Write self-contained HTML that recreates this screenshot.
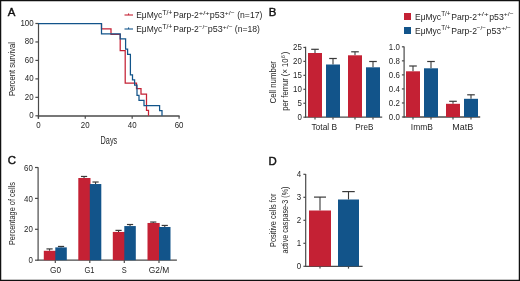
<!DOCTYPE html>
<html><head><meta charset="utf-8"><style>
html,body{margin:0;padding:0;background:#fff;}
svg{display:block;will-change:transform;}
text{font-family:"Liberation Sans",sans-serif;}
</style></head><body>
<svg width="520" height="281" viewBox="0 0 520 281">
<rect x="0" y="0" width="520" height="281" fill="#fff"/>
<rect x="0.6" y="0.6" width="518.8" height="279.8" fill="none" stroke="#111" stroke-width="1.3"/>
<text x="7.8" y="16.3" font-size="11.4" text-anchor="start" fill="#111" stroke="#111" stroke-width="0.42">A</text>
<text x="268.7" y="16.3" font-size="11.4" text-anchor="start" fill="#111" stroke="#111" stroke-width="0.42">B</text>
<text x="7.7" y="164.3" font-size="11.4" text-anchor="start" fill="#111" stroke="#111" stroke-width="0.42">C</text>
<text x="268.5" y="164.5" font-size="11.4" text-anchor="start" fill="#111" stroke="#111" stroke-width="0.42">D</text>
<line x1="38.5" y1="23" x2="38.5" y2="118.6" stroke="#4a4a4a" stroke-width="1.2"/>
<line x1="37.9" y1="116.0" x2="179.6" y2="116.0" stroke="#4a4a4a" stroke-width="1.45"/>
<line x1="35.4" y1="23.5" x2="38.5" y2="23.5" stroke="#4a4a4a" stroke-width="1.2"/>
<text transform="translate(33.6,25.7) scale(0.92,1)" font-size="8.6" text-anchor="end" fill="#262626">100</text>
<line x1="35.4" y1="41.96" x2="38.5" y2="41.96" stroke="#4a4a4a" stroke-width="1.2"/>
<text transform="translate(33.6,44.16) scale(0.92,1)" font-size="8.6" text-anchor="end" fill="#262626">80</text>
<line x1="35.4" y1="60.42" x2="38.5" y2="60.42" stroke="#4a4a4a" stroke-width="1.2"/>
<text transform="translate(33.6,62.62) scale(0.92,1)" font-size="8.6" text-anchor="end" fill="#262626">60</text>
<line x1="35.4" y1="78.88" x2="38.5" y2="78.88" stroke="#4a4a4a" stroke-width="1.2"/>
<text transform="translate(33.6,81.08) scale(0.92,1)" font-size="8.6" text-anchor="end" fill="#262626">40</text>
<line x1="35.4" y1="97.34" x2="38.5" y2="97.34" stroke="#4a4a4a" stroke-width="1.2"/>
<text transform="translate(33.6,99.54) scale(0.92,1)" font-size="8.6" text-anchor="end" fill="#262626">20</text>
<line x1="35.4" y1="115.8" x2="38.5" y2="115.8" stroke="#4a4a4a" stroke-width="1.2"/>
<text transform="translate(33.6,118.0) scale(0.92,1)" font-size="8.6" text-anchor="end" fill="#262626">0</text>
<line x1="38.35" y1="116" x2="38.35" y2="118.8" stroke="#4a4a4a" stroke-width="1.2"/>
<text transform="translate(38.35,128.3) scale(0.92,1)" font-size="8.6" text-anchor="middle" fill="#262626">0</text>
<line x1="85.26" y1="116" x2="85.26" y2="118.8" stroke="#4a4a4a" stroke-width="1.2"/>
<text transform="translate(85.26,128.3) scale(0.92,1)" font-size="8.6" text-anchor="middle" fill="#262626">20</text>
<line x1="132.17" y1="116" x2="132.17" y2="118.8" stroke="#4a4a4a" stroke-width="1.2"/>
<text transform="translate(132.17,128.3) scale(0.92,1)" font-size="8.6" text-anchor="middle" fill="#262626">40</text>
<line x1="179.08" y1="116" x2="179.08" y2="118.8" stroke="#4a4a4a" stroke-width="1.2"/>
<text transform="translate(179.08,128.3) scale(0.92,1)" font-size="8.6" text-anchor="middle" fill="#262626">60</text>
<text x="108.9" y="143.5" font-size="10.2" text-anchor="middle" fill="#262626" textLength="16.6" lengthAdjust="spacingAndGlyphs">Days</text>
<text transform="translate(14.6,69) rotate(-90)" font-size="9.6" text-anchor="middle" fill="#262626" textLength="54" lengthAdjust="spacingAndGlyphs">Percent survival</text>
<path d="M101.5,23.5 101.5,23.5 101.5,28.93 111,28.93 111,34.36 120.2,34.36 120.2,50.65 125.2,50.65 125.2,83.22 136.5,83.22 136.5,88.65 141,88.65 141,94.08 146.5,94.08 146.5,110.37 148.5,110.37 148.5,115.8" fill="none" stroke="#C42134" stroke-width="1.25"/>
<path d="M38.3,23.5 101.5,23.5 101.5,33.76 120.2,33.76 120.2,38.88 125.6,38.88 125.6,49.14 127.6,49.14 127.6,54.27 130.4,54.27 130.4,74.78 132.5,74.78 132.5,79.91 134.6,79.91 134.6,85.03 137,85.03 137,95.29 139,95.29 139,100.42 144,100.42 144,105.54 159.6,105.54 159.6,110.67 162,110.67 162,115.8" fill="none" stroke="#12548A" stroke-width="1.25"/>
<line x1="124.5" y1="15" x2="133" y2="15" stroke="#C42134" stroke-width="1.1"/>
<line x1="128.6" y1="13.4" x2="128.6" y2="15" stroke="#C42134" stroke-width="1"/>
<line x1="124.5" y1="29" x2="133" y2="29" stroke="#12548A" stroke-width="1.1"/>
<line x1="128.6" y1="27.4" x2="128.6" y2="29" stroke="#12548A" stroke-width="1"/>
<text x="136.2" y="17.8" font-size="9.6" text-anchor="start" fill="#262626" textLength="26" lengthAdjust="spacingAndGlyphs">EμMyc</text>
<text x="162.2" y="14.7" font-size="6.8" text-anchor="start" fill="#262626" textLength="10.2" lengthAdjust="spacingAndGlyphs">T/+</text>
<text x="173.2" y="17.8" font-size="9.6" text-anchor="start" fill="#262626" textLength="25.6" lengthAdjust="spacingAndGlyphs">Parp-2</text>
<text x="198.8" y="14.5" font-size="6.2" text-anchor="start" fill="#262626" textLength="11" lengthAdjust="spacingAndGlyphs">+/+</text>
<text x="209.8" y="17.8" font-size="9.6" text-anchor="start" fill="#262626" textLength="15" lengthAdjust="spacingAndGlyphs">p53</text>
<text x="224.8" y="14.5" font-size="6.2" text-anchor="start" fill="#262626" textLength="9.8" lengthAdjust="spacingAndGlyphs">+/−</text>
<text x="237.2" y="17.8" font-size="9.6" text-anchor="start" fill="#262626" textLength="25.2" lengthAdjust="spacingAndGlyphs">(n=17)</text>
<text x="136.2" y="31.8" font-size="9.6" text-anchor="start" fill="#262626" textLength="26" lengthAdjust="spacingAndGlyphs">EμMyc</text>
<text x="162.2" y="28.7" font-size="6.8" text-anchor="start" fill="#262626" textLength="10.2" lengthAdjust="spacingAndGlyphs">T/+</text>
<text x="173.2" y="31.8" font-size="9.6" text-anchor="start" fill="#262626" textLength="25.6" lengthAdjust="spacingAndGlyphs">Parp-2</text>
<text x="198.8" y="28.5" font-size="6.2" text-anchor="start" fill="#262626" textLength="9" lengthAdjust="spacingAndGlyphs">−/−</text>
<text x="207.8" y="31.8" font-size="9.6" text-anchor="start" fill="#262626" textLength="15" lengthAdjust="spacingAndGlyphs">p53</text>
<text x="222.8" y="28.5" font-size="6.2" text-anchor="start" fill="#262626" textLength="9.8" lengthAdjust="spacingAndGlyphs">+/−</text>
<text x="234.8" y="31.8" font-size="9.6" text-anchor="start" fill="#262626" textLength="25.2" lengthAdjust="spacingAndGlyphs">(n=18)</text>
<line x1="305.6" y1="46.8" x2="305.6" y2="117.6" stroke="#4a4a4a" stroke-width="1.2"/>
<line x1="305" y1="117.2" x2="382.2" y2="117.2" stroke="#4a4a4a" stroke-width="1.3"/>
<line x1="303.4" y1="47.45" x2="305.6" y2="47.45" stroke="#4a4a4a" stroke-width="1.2"/>
<text transform="translate(301.8,49.75) scale(0.92,1)" font-size="8.6" text-anchor="end" fill="#262626">25</text>
<line x1="303.4" y1="61.4" x2="305.6" y2="61.4" stroke="#4a4a4a" stroke-width="1.2"/>
<text transform="translate(301.8,63.7) scale(0.92,1)" font-size="8.6" text-anchor="end" fill="#262626">20</text>
<line x1="303.4" y1="75.35" x2="305.6" y2="75.35" stroke="#4a4a4a" stroke-width="1.2"/>
<text transform="translate(301.8,77.65) scale(0.92,1)" font-size="8.6" text-anchor="end" fill="#262626">15</text>
<line x1="303.4" y1="89.3" x2="305.6" y2="89.3" stroke="#4a4a4a" stroke-width="1.2"/>
<text transform="translate(301.8,91.6) scale(0.92,1)" font-size="8.6" text-anchor="end" fill="#262626">10</text>
<line x1="303.4" y1="103.25" x2="305.6" y2="103.25" stroke="#4a4a4a" stroke-width="1.2"/>
<text transform="translate(301.8,105.55) scale(0.92,1)" font-size="8.6" text-anchor="end" fill="#262626">5</text>
<line x1="303.4" y1="117.2" x2="305.6" y2="117.2" stroke="#4a4a4a" stroke-width="1.2"/>
<text transform="translate(301.8,119.5) scale(0.92,1)" font-size="8.6" text-anchor="end" fill="#262626">0</text>
<line x1="315" y1="53" x2="315" y2="49.3" stroke="#3a3a3a" stroke-width="1.1"/>
<line x1="311.2" y1="49.3" x2="318.8" y2="49.3" stroke="#3a3a3a" stroke-width="1.2"/>
<rect x="308" y="53" width="14" height="64.2" fill="#C42134"/>
<line x1="333" y1="64.5" x2="333" y2="58.5" stroke="#3a3a3a" stroke-width="1.1"/>
<line x1="329.2" y1="58.5" x2="336.8" y2="58.5" stroke="#3a3a3a" stroke-width="1.2"/>
<rect x="326" y="64.5" width="14" height="52.7" fill="#12548A"/>
<line x1="355" y1="55.3" x2="355" y2="51.8" stroke="#3a3a3a" stroke-width="1.1"/>
<line x1="351.2" y1="51.8" x2="358.8" y2="51.8" stroke="#3a3a3a" stroke-width="1.2"/>
<rect x="348" y="55.3" width="14" height="61.9" fill="#C42134"/>
<line x1="373" y1="67.3" x2="373" y2="61.5" stroke="#3a3a3a" stroke-width="1.1"/>
<line x1="369.2" y1="61.5" x2="376.8" y2="61.5" stroke="#3a3a3a" stroke-width="1.2"/>
<rect x="366" y="67.3" width="14" height="49.9" fill="#12548A"/>
<line x1="315" y1="117.2" x2="315" y2="119.6" stroke="#4a4a4a" stroke-width="1.2"/>
<line x1="333" y1="117.2" x2="333" y2="119.6" stroke="#4a4a4a" stroke-width="1.2"/>
<line x1="355" y1="117.2" x2="355" y2="119.6" stroke="#4a4a4a" stroke-width="1.2"/>
<line x1="373" y1="117.2" x2="373" y2="119.6" stroke="#4a4a4a" stroke-width="1.2"/>
<text x="324.3" y="129.6" font-size="8.6" text-anchor="middle" fill="#262626" textLength="25.8" lengthAdjust="spacingAndGlyphs">Total B</text>
<text x="364.3" y="129.6" font-size="8.6" text-anchor="middle" fill="#262626" textLength="18" lengthAdjust="spacingAndGlyphs">PreB</text>
<line x1="404.1" y1="46.5" x2="404.1" y2="117.4" stroke="#4a4a4a" stroke-width="1.2"/>
<line x1="403.5" y1="117.0" x2="480.2" y2="117.0" stroke="#4a4a4a" stroke-width="1.3"/>
<line x1="401.9" y1="46.8" x2="404.1" y2="46.8" stroke="#4a4a4a" stroke-width="1.2"/>
<text transform="translate(399.8,49.9) scale(0.92,1)" font-size="8.6" text-anchor="end" fill="#262626">1.0</text>
<line x1="401.9" y1="60.84" x2="404.1" y2="60.84" stroke="#4a4a4a" stroke-width="1.2"/>
<text transform="translate(399.8,63.94) scale(0.92,1)" font-size="8.6" text-anchor="end" fill="#262626">0.8</text>
<line x1="401.9" y1="74.88" x2="404.1" y2="74.88" stroke="#4a4a4a" stroke-width="1.2"/>
<text transform="translate(399.8,77.98) scale(0.92,1)" font-size="8.6" text-anchor="end" fill="#262626">0.6</text>
<line x1="401.9" y1="88.92" x2="404.1" y2="88.92" stroke="#4a4a4a" stroke-width="1.2"/>
<text transform="translate(399.8,92.02) scale(0.92,1)" font-size="8.6" text-anchor="end" fill="#262626">0.4</text>
<line x1="401.9" y1="102.96" x2="404.1" y2="102.96" stroke="#4a4a4a" stroke-width="1.2"/>
<text transform="translate(399.8,106.06) scale(0.92,1)" font-size="8.6" text-anchor="end" fill="#262626">0.2</text>
<line x1="401.9" y1="117.0" x2="404.1" y2="117.0" stroke="#4a4a4a" stroke-width="1.2"/>
<text transform="translate(399.8,120.1) scale(0.92,1)" font-size="8.6" text-anchor="end" fill="#262626">0.0</text>
<line x1="413" y1="71.3" x2="413" y2="66" stroke="#3a3a3a" stroke-width="1.1"/>
<line x1="409.2" y1="66" x2="416.8" y2="66" stroke="#3a3a3a" stroke-width="1.2"/>
<rect x="406" y="71.3" width="14" height="45.7" fill="#C42134"/>
<line x1="431" y1="68.3" x2="431" y2="61.5" stroke="#3a3a3a" stroke-width="1.1"/>
<line x1="427.2" y1="61.5" x2="434.8" y2="61.5" stroke="#3a3a3a" stroke-width="1.2"/>
<rect x="424" y="68.3" width="14" height="48.7" fill="#12548A"/>
<line x1="453" y1="103.8" x2="453" y2="101.3" stroke="#3a3a3a" stroke-width="1.1"/>
<line x1="449.2" y1="101.3" x2="456.8" y2="101.3" stroke="#3a3a3a" stroke-width="1.2"/>
<rect x="446" y="103.8" width="14" height="13.2" fill="#C42134"/>
<line x1="471" y1="98.8" x2="471" y2="94.8" stroke="#3a3a3a" stroke-width="1.1"/>
<line x1="467.2" y1="94.8" x2="474.8" y2="94.8" stroke="#3a3a3a" stroke-width="1.2"/>
<rect x="464" y="98.8" width="14" height="18.2" fill="#12548A"/>
<line x1="413" y1="117" x2="413" y2="119.4" stroke="#4a4a4a" stroke-width="1.2"/>
<line x1="431" y1="117" x2="431" y2="119.4" stroke="#4a4a4a" stroke-width="1.2"/>
<line x1="453" y1="117" x2="453" y2="119.4" stroke="#4a4a4a" stroke-width="1.2"/>
<line x1="471" y1="117" x2="471" y2="119.4" stroke="#4a4a4a" stroke-width="1.2"/>
<text x="421.8" y="129.6" font-size="8.6" text-anchor="middle" fill="#262626" textLength="22" lengthAdjust="spacingAndGlyphs">ImmB</text>
<text x="462.8" y="129.6" font-size="8.6" text-anchor="middle" fill="#262626" textLength="21" lengthAdjust="spacingAndGlyphs">MatB</text>
<text transform="translate(275.6,82.3) rotate(-90)" font-size="9.0" text-anchor="middle" fill="#262626" textLength="42.5" lengthAdjust="spacingAndGlyphs">Cell number</text>
<text transform="translate(287.7,110.8) rotate(-90)" font-size="9.0" fill="#262626"><tspan x="0" textLength="52.2" lengthAdjust="spacingAndGlyphs">per femur (× 10</tspan><tspan x="52.6" font-size="5.6" dy="-3.0">6</tspan><tspan x="56.2" dy="3.0">)</tspan></text>
<rect x="404" y="13" width="7" height="7" fill="#C42134"/>
<rect x="404" y="27" width="7" height="7" fill="#12548A"/>
<text x="415" y="19.9" font-size="9.6" text-anchor="start" fill="#262626" textLength="26" lengthAdjust="spacingAndGlyphs">EμMyc</text>
<text x="441.2" y="16.4" font-size="6.8" text-anchor="start" fill="#262626" textLength="9.4" lengthAdjust="spacingAndGlyphs">T/+</text>
<text x="451.2" y="19.9" font-size="9.6" text-anchor="start" fill="#262626" textLength="25.8" lengthAdjust="spacingAndGlyphs">Parp-2</text>
<text x="477.2" y="16.2" font-size="6.2" text-anchor="start" fill="#262626" textLength="11.4" lengthAdjust="spacingAndGlyphs">+/+</text>
<text x="489.2" y="19.9" font-size="9.6" text-anchor="start" fill="#262626" textLength="14.6" lengthAdjust="spacingAndGlyphs">p53</text>
<text x="503.8" y="16.2" font-size="6.2" text-anchor="start" fill="#262626" textLength="9.8" lengthAdjust="spacingAndGlyphs">+/−</text>
<text x="415" y="33.9" font-size="9.6" text-anchor="start" fill="#262626" textLength="26" lengthAdjust="spacingAndGlyphs">EμMyc</text>
<text x="441.2" y="30.4" font-size="6.8" text-anchor="start" fill="#262626" textLength="9.4" lengthAdjust="spacingAndGlyphs">T/+</text>
<text x="451.2" y="33.9" font-size="9.6" text-anchor="start" fill="#262626" textLength="25.8" lengthAdjust="spacingAndGlyphs">Parp-2</text>
<text x="476.8" y="30.2" font-size="6.2" text-anchor="start" fill="#262626" textLength="9.2" lengthAdjust="spacingAndGlyphs">−/−</text>
<text x="486.6" y="33.9" font-size="9.6" text-anchor="start" fill="#262626" textLength="14.6" lengthAdjust="spacingAndGlyphs">p53</text>
<text x="501.2" y="30.2" font-size="6.2" text-anchor="start" fill="#262626" textLength="9.8" lengthAdjust="spacingAndGlyphs">+/−</text>
<line x1="38.1" y1="167.2" x2="38.1" y2="260.6" stroke="#4a4a4a" stroke-width="1.2"/>
<line x1="37.5" y1="260.2" x2="176.9" y2="260.2" stroke="#4a4a4a" stroke-width="1.3"/>
<line x1="35.0" y1="167.5" x2="38.1" y2="167.5" stroke="#4a4a4a" stroke-width="1.2"/>
<text transform="translate(32.8,170.6) scale(0.92,1)" font-size="8.6" text-anchor="end" fill="#262626">60</text>
<line x1="35.0" y1="198.4" x2="38.1" y2="198.4" stroke="#4a4a4a" stroke-width="1.2"/>
<text transform="translate(32.8,201.5) scale(0.92,1)" font-size="8.6" text-anchor="end" fill="#262626">40</text>
<line x1="35.0" y1="229.3" x2="38.1" y2="229.3" stroke="#4a4a4a" stroke-width="1.2"/>
<text transform="translate(32.8,232.4) scale(0.92,1)" font-size="8.6" text-anchor="end" fill="#262626">20</text>
<line x1="35.0" y1="260.2" x2="38.1" y2="260.2" stroke="#4a4a4a" stroke-width="1.2"/>
<text transform="translate(32.8,263.3) scale(0.92,1)" font-size="8.6" text-anchor="end" fill="#262626">0</text>
<line x1="49.55" y1="250.78" x2="49.55" y2="248.92" stroke="#3a3a3a" stroke-width="1.1"/>
<line x1="46.45" y1="248.92" x2="52.65" y2="248.92" stroke="#3a3a3a" stroke-width="1.2"/>
<rect x="43.8" y="250.78" width="12.2" height="9.42" fill="#C42134"/>
<line x1="61.05" y1="247.38" x2="61.05" y2="246.45" stroke="#3a3a3a" stroke-width="1.1"/>
<line x1="57.95" y1="246.45" x2="64.15" y2="246.45" stroke="#3a3a3a" stroke-width="1.2"/>
<rect x="55.3" y="247.38" width="11.5" height="12.82" fill="#12548A"/>
<line x1="55.3" y1="260.2" x2="55.3" y2="263" stroke="#4a4a4a" stroke-width="1.2"/>
<line x1="84.05" y1="178.01" x2="84.05" y2="176.46" stroke="#3a3a3a" stroke-width="1.1"/>
<line x1="80.95" y1="176.46" x2="87.15" y2="176.46" stroke="#3a3a3a" stroke-width="1.2"/>
<rect x="78.3" y="178.01" width="12.2" height="82.19" fill="#C42134"/>
<line x1="95.55" y1="184.03" x2="95.55" y2="182.02" stroke="#3a3a3a" stroke-width="1.1"/>
<line x1="92.45" y1="182.02" x2="98.65" y2="182.02" stroke="#3a3a3a" stroke-width="1.2"/>
<rect x="89.8" y="184.03" width="11.5" height="76.17" fill="#12548A"/>
<line x1="89.8" y1="260.2" x2="89.8" y2="263" stroke="#4a4a4a" stroke-width="1.2"/>
<line x1="118.55" y1="231.93" x2="118.55" y2="230.38" stroke="#3a3a3a" stroke-width="1.1"/>
<line x1="115.45" y1="230.38" x2="121.65" y2="230.38" stroke="#3a3a3a" stroke-width="1.2"/>
<rect x="112.8" y="231.93" width="12.2" height="28.27" fill="#C42134"/>
<line x1="130.05" y1="226.06" x2="130.05" y2="224.51" stroke="#3a3a3a" stroke-width="1.1"/>
<line x1="126.95" y1="224.51" x2="133.15" y2="224.51" stroke="#3a3a3a" stroke-width="1.2"/>
<rect x="124.3" y="226.06" width="11.5" height="34.14" fill="#12548A"/>
<line x1="124.3" y1="260.2" x2="124.3" y2="263" stroke="#4a4a4a" stroke-width="1.2"/>
<line x1="153.25" y1="222.97" x2="153.25" y2="222.04" stroke="#3a3a3a" stroke-width="1.1"/>
<line x1="150.15" y1="222.04" x2="156.35" y2="222.04" stroke="#3a3a3a" stroke-width="1.2"/>
<rect x="147.5" y="222.97" width="12.2" height="37.23" fill="#C42134"/>
<line x1="164.75" y1="226.98" x2="164.75" y2="225.44" stroke="#3a3a3a" stroke-width="1.1"/>
<line x1="161.65" y1="225.44" x2="167.85" y2="225.44" stroke="#3a3a3a" stroke-width="1.2"/>
<rect x="159" y="226.98" width="11.5" height="33.22" fill="#12548A"/>
<line x1="159" y1="260.2" x2="159" y2="263" stroke="#4a4a4a" stroke-width="1.2"/>
<text x="55.6" y="272.6" font-size="8.4" text-anchor="middle" fill="#262626" textLength="11" lengthAdjust="spacingAndGlyphs">G0</text>
<text x="89.4" y="272.6" font-size="8.4" text-anchor="middle" fill="#262626" textLength="10" lengthAdjust="spacingAndGlyphs">G1</text>
<text x="124.2" y="272.6" font-size="8.4" text-anchor="middle" fill="#262626" textLength="5" lengthAdjust="spacingAndGlyphs">S</text>
<text x="159" y="272.6" font-size="8.4" text-anchor="middle" fill="#262626" textLength="20.5" lengthAdjust="spacingAndGlyphs">G2/M</text>
<text transform="translate(14.5,213.6) rotate(-90)" font-size="9.6" text-anchor="middle" fill="#262626" textLength="63" lengthAdjust="spacingAndGlyphs">Percentage of cells</text>
<line x1="305.7" y1="174.0" x2="305.7" y2="266.8" stroke="#4a4a4a" stroke-width="1.2"/>
<line x1="305.1" y1="266.3" x2="362.6" y2="266.3" stroke="#4a4a4a" stroke-width="1.3"/>
<line x1="303.4" y1="174.3" x2="305.7" y2="174.3" stroke="#4a4a4a" stroke-width="1.2"/>
<text transform="translate(301.1,177.0) scale(0.92,1)" font-size="8.6" text-anchor="end" fill="#262626">4</text>
<line x1="303.4" y1="197.3" x2="305.7" y2="197.3" stroke="#4a4a4a" stroke-width="1.2"/>
<text transform="translate(301.1,200.0) scale(0.92,1)" font-size="8.6" text-anchor="end" fill="#262626">3</text>
<line x1="303.4" y1="220.3" x2="305.7" y2="220.3" stroke="#4a4a4a" stroke-width="1.2"/>
<text transform="translate(301.1,223.0) scale(0.92,1)" font-size="8.6" text-anchor="end" fill="#262626">2</text>
<line x1="303.4" y1="243.3" x2="305.7" y2="243.3" stroke="#4a4a4a" stroke-width="1.2"/>
<text transform="translate(301.1,246.0) scale(0.92,1)" font-size="8.6" text-anchor="end" fill="#262626">1</text>
<line x1="303.4" y1="266.3" x2="305.7" y2="266.3" stroke="#4a4a4a" stroke-width="1.2"/>
<text transform="translate(301.1,269.0) scale(0.92,1)" font-size="8.6" text-anchor="end" fill="#262626">0</text>
<line x1="320" y1="210.5" x2="320" y2="197.1" stroke="#3a3a3a" stroke-width="1.1"/>
<line x1="314.0" y1="197.1" x2="326.0" y2="197.1" stroke="#3a3a3a" stroke-width="1.2"/>
<rect x="309" y="210.5" width="22" height="55.8" fill="#C42134"/>
<line x1="348.5" y1="199.5" x2="348.5" y2="191.6" stroke="#3a3a3a" stroke-width="1.1"/>
<line x1="342.25" y1="191.6" x2="354.75" y2="191.6" stroke="#3a3a3a" stroke-width="1.2"/>
<rect x="338" y="199.5" width="21" height="66.8" fill="#12548A"/>
<line x1="320" y1="266.3" x2="320" y2="268.6" stroke="#4a4a4a" stroke-width="1.2"/>
<line x1="348.5" y1="266.3" x2="348.5" y2="268.6" stroke="#4a4a4a" stroke-width="1.2"/>
<text transform="translate(276.2,220.3) rotate(-90)" font-size="9.3" text-anchor="middle" fill="#262626" textLength="53.5" lengthAdjust="spacingAndGlyphs">Positive cells for</text>
<text transform="translate(288.2,220.0) rotate(-90)" font-size="9.3" text-anchor="middle" fill="#262626" textLength="67" lengthAdjust="spacingAndGlyphs">active caspase-3 (%)</text>
</svg>
</body></html>
